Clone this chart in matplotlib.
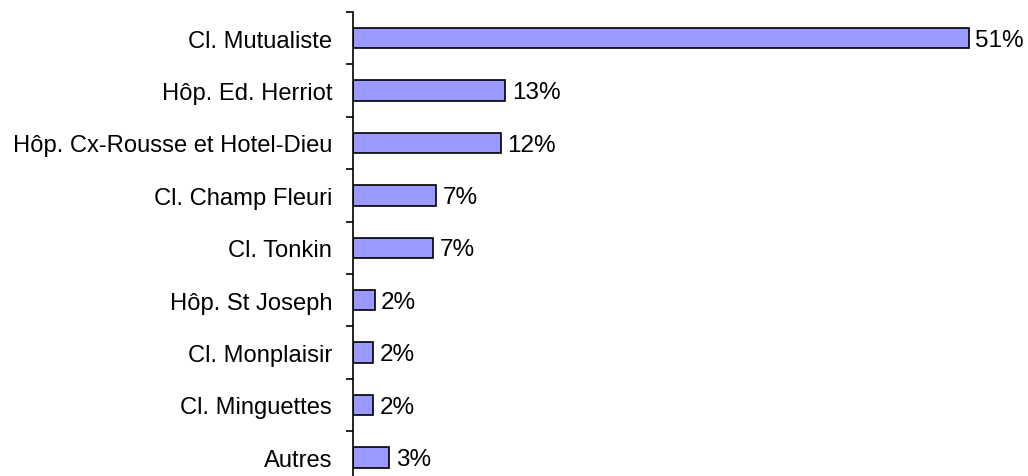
import matplotlib.pyplot as plt
import numpy as np

plt.rcParams['font.family'] = ['Liberation Sans', 'DejaVu Sans']

categories = ['Cl. Mutualiste', 'Hôp. Ed. Herriot', 'Hôp. Cx-Rousse et Hotel-Dieu',
              'Cl. Champ Fleuri', 'Cl. Tonkin', 'Hôp. St Joseph', 'Cl. Monplaisir',
              'Cl. Minguettes', 'Autres']
values = [51.3, 12.7, 12.3, 6.9, 6.7, 1.8, 1.7, 1.7, 3.0]
labels = ['51%', '13%', '12%', '7%', '7%', '2%', '2%', '2%', '3%']

W, H = 1028, 477
fig = plt.figure(figsize=(W / 100, H / 100), dpi=100)
# axes: left edge at x=353, top at y=13, slot height ~52.4 px
top, slot = 13, 52.4
bottom = top + slot * len(categories)
ax = fig.add_axes([353 / W, (H - bottom) / H, 660 / W, (bottom - top) / H])

y = np.arange(len(categories))
ax.barh(y, values, height=0.39, color='#9999FF', edgecolor='black', linewidth=1.2, zorder=2)
for yi, v, lab in zip(y, values, labels):
    ax.text(v + 0.55, yi + 0.03, lab, va='center', ha='left', fontsize=17.5)

ax.set_xlim(0, 55)
ax.set_ylim(len(categories) - 0.5, -0.5)
ax.set_yticks(y)
ax.set_yticklabels(categories, fontsize=17.1)
ax.tick_params(axis='y', which='major', length=0, pad=15)
ax.set_yticks(np.arange(len(categories) + 1) - 0.5, minor=True)
ax.tick_params(axis='y', which='minor', length=5, width=1.2, direction='out')
ax.set_xticks([])
for s in ['top', 'right', 'bottom']:
    ax.spines[s].set_visible(False)
ax.spines['left'].set_linewidth(1.2)
ax.spines['left'].set_clip_on(False)

fig.savefig('out.png', dpi=100)
